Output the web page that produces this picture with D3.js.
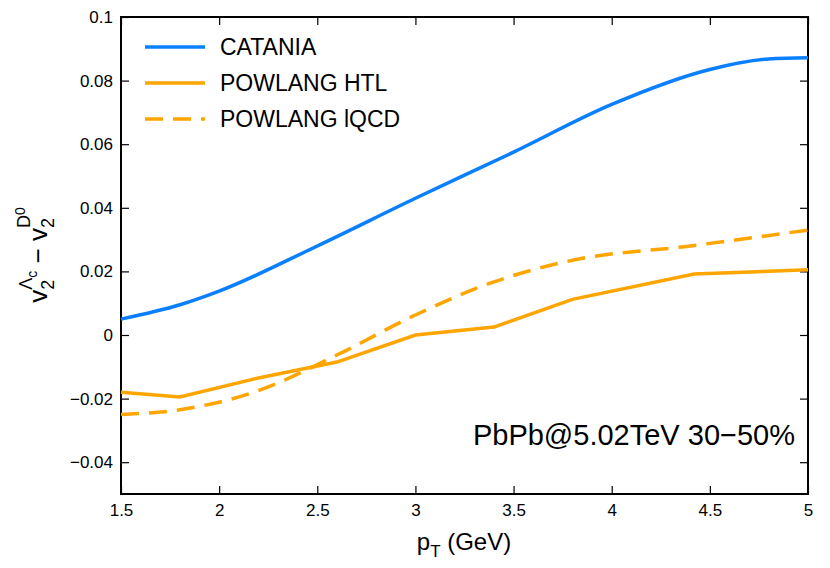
<!DOCTYPE html>
<html><head><meta charset="utf-8">
<script src="https://cdn.jsdelivr.net/npm/d3@7"></script>
<style>body{margin:0;background:#fff}</style></head>
<body><svg id="c" width="830" height="568"></svg>
<script>
const cataniaX=[1.5,1.8,2,2.5,3,3.5,4,4.5,4.8,5];
const cataniaY=[0.005,0.0095,0.0138,0.028,0.043,0.0575,0.0725,0.0835,0.0868,0.0872];
const htlX=[1.5,1.8,2.2,2.6,3,3.4,3.8,4.42,5];
const htlY=[-0.018,-0.0195,-0.0135,-0.0085,0,0.0025,0.0112,0.0192,0.0205];
const lqcdX=[1.5,1.8,2.2,2.6,3,3.4,3.8,4.4,5];
const lqcdY=[-0.025,-0.0235,-0.0175,-0.0063,0.0063,0.0167,0.0235,0.028,0.033];
const xTicks=[1.5,2,2.5,3,3.5,4,4.5,5];
const yTicks=[-0.04,-0.02,0,0.02,0.04,0.06,0.08,0.1];
const legendNames=["CATANIA","POWLANG HTL","POWLANG lQCD"];

const svg=d3.select("#c");
const L=121,R=808,T=17,B=494;
const x=d3.scaleLinear().domain([1.5,5]).range([L,R]);
const y=d3.scaleLinear().domain([-0.05,0.1]).range([B,T]);
const f="Liberation Sans, Arial, sans-serif";
const fmt=v=>v===0?"0":(v<0?"\u2212"+String(-v):String(v));

const gx=svg.append("g").attr("transform",`translate(0,${B})`).call(d3.axisBottom(x).tickValues(xTicks).tickSize(-8).tickPadding(10).tickFormat(d=>String(d)));
const gxt=svg.append("g").attr("transform",`translate(0,${T})`).call(d3.axisTop(x).tickValues(xTicks).tickSize(-8).tickFormat(""));
const gy=svg.append("g").attr("transform",`translate(${L},0)`).call(d3.axisLeft(y).tickValues(yTicks).tickSize(-8).tickPadding(8).tickFormat(fmt));
const gyr=svg.append("g").attr("transform",`translate(${R},0)`).call(d3.axisRight(y).tickValues(yTicks).tickSize(-8).tickFormat(""));
[gx,gxt,gy,gyr].forEach(g=>{g.select(".domain").remove();g.selectAll("line").attr("stroke","#000").attr("stroke-width",1.2);g.selectAll("text").attr("font-family",f).attr("font-size",17).attr("fill","#000");});
svg.append("rect").attr("x",L).attr("y",T).attr("width",R-L).attr("height",B-T).attr("fill","none").attr("stroke","#000").attr("stroke-width",2);

const mk=(xs,ys)=>xs.map((v,i)=>[v,ys[i]]);
svg.append("path").datum(mk(cataniaX,cataniaY)).attr("d",d3.line().x(d=>x(d[0])).y(d=>y(d[1])).curve(d3.curveMonotoneX)).attr("fill","none").attr("stroke","#0a7fff").attr("stroke-width",3.5);
svg.append("path").datum(mk(htlX,htlY)).attr("d",d3.line().x(d=>x(d[0])).y(d=>y(d[1]))).attr("fill","none").attr("stroke","#ffa500").attr("stroke-width",3.5);
svg.append("path").datum(mk(lqcdX,lqcdY)).attr("d",d3.line().x(d=>x(d[0])).y(d=>y(d[1])).curve(d3.curveMonotoneX)).attr("fill","none").attr("stroke","#ffa500").attr("stroke-width",3.5).attr("stroke-dasharray","18,10");

const cols=["#0a7fff","#ffa500","#ffa500"],dash=[null,null,"18,10"];
legendNames.forEach((n,i)=>{const yy=47+i*36;
 svg.append("line").attr("x1",145).attr("x2",205).attr("y1",yy).attr("y2",yy).attr("stroke",cols[i]).attr("stroke-width",3.5).attr("stroke-dasharray",dash[i]);
 svg.append("text").attr("x",220).attr("y",yy+8).text(n).attr("font-family",f).attr("font-size",23);});

svg.append("text").attr("x",795).attr("y",445).attr("text-anchor","end").attr("font-family",f).attr("font-size",29).text("PbPb@5.02TeV 30\u221250%");

const xl=svg.append("text").attr("x",464).attr("y",550).attr("text-anchor","middle").attr("font-family",f).attr("font-size",24);
xl.append("tspan").text("p");xl.append("tspan").attr("font-size",17).attr("dy",7).text("T");xl.append("tspan").attr("dy",-7).text(" (GeV)");

const yl=svg.append("text").attr("transform","translate(47,255) rotate(-90)").attr("text-anchor","middle").attr("font-family",f).attr("font-size",26);
yl.append("tspan").text("v");
yl.append("tspan").attr("font-size",18).attr("dy",7).text("2");
yl.append("tspan").attr("font-size",18).attr("dy",-22).attr("dx",-10).text("\u039B");
yl.append("tspan").attr("font-size",14).attr("dy",5).text("c");
yl.append("tspan").attr("dy",10).text(" \u2212 v");
yl.append("tspan").attr("font-size",18).attr("dy",7).text("2");
yl.append("tspan").attr("font-size",18).attr("dy",-24).attr("dx",-10).text("D");
yl.append("tspan").attr("font-size",14).attr("dy",-5).text("0");
</script></body></html>
